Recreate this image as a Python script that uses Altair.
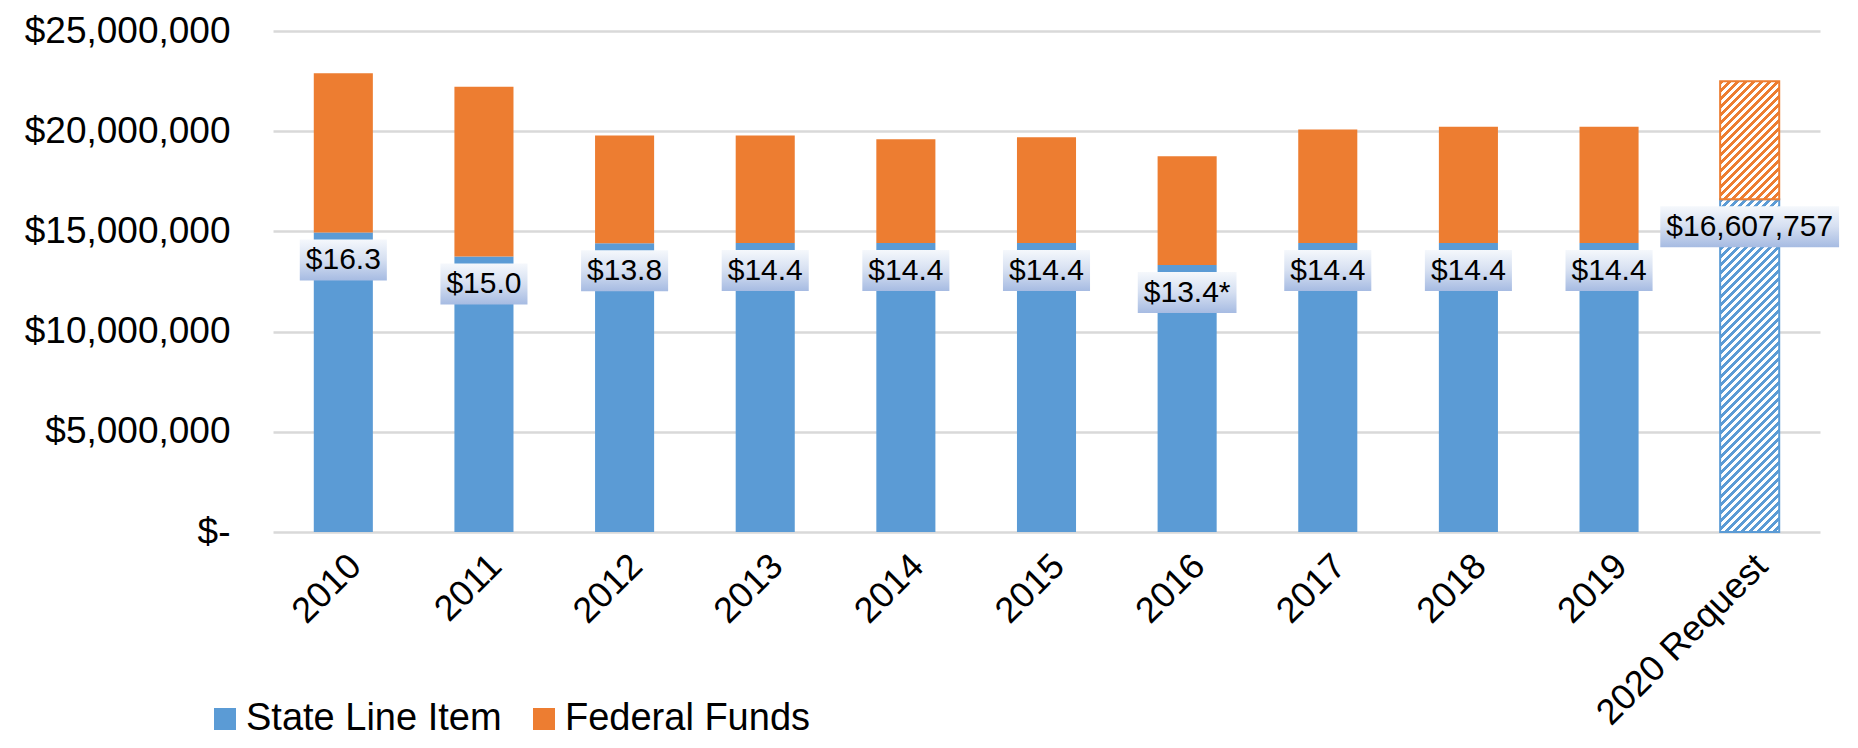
import altair as alt
import pandas as pd

# ---------------- data ----------------
YEARS = ["2010", "2011", "2012", "2013", "2014", "2015", "2016", "2017",
         "2018", "2019", "2020 Request"]
STATE = [14950000, 13750000, 14410000, 14420000, 14420000, 14420000,
         13320000, 14420000, 14420000, 14420000, 16607757]
FEDERAL = [7940000, 8470000, 5370000, 5360000, 5180000, 5280000,
           5430000, 5670000, 5800000, 5800000, 5890000]
LABELS = ["$16.3", "$15.0", "$13.8", "$14.4", "$14.4", "$14.4", "$13.4*",
          "$14.4", "$14.4", "$14.4", "$16,607,757"]
SERIES = ["State Line Item", "Federal Funds"]
Y_TICKS = [0, 5000000, 10000000, 15000000, 20000000, 25000000]
REQUEST = "2020 Request"

# ---------------- style ----------------
BLUE = "#5b9bd5"
ORANGE = "#ed7d31"
FONT = "Liberation Sans"
PLOT_W = 1547
PLOT_H = 501
Y_MAX = 25000000
PAD_IN = 0.58
PAD_OUT = 0.29
BAND_W = PLOT_W / len(YEARS) * (1 - PAD_IN)
LABEL_FS = 30


def hatch(color, w, h, period=8.0, frac=0.55):
    k = (w + h) / (w * w + h * h)
    n = (w + h) / period
    stops = []
    i = 0
    while i < n:
        a = i / n
        b = min((i + frac) / n, 1.0)
        c = min((i + 1) / n, 1.0)
        stops += [(a, color), (b, color), (b, "#ffffff"), (c, "#ffffff")]
        i += 1
    return alt.Gradient(
        gradient="linear", x1=0, y1=0, x2=k * w, y2=k * h,
        stops=[alt.GradientStop(offset=o, color=col) for o, col in stops],
    )


def text_width(t, fs):
    w = 0.0
    for ch in t:
        if ch in ".,":
            w += 0.278
        elif ch == "*":
            w += 0.389
        else:
            w += 0.556
    return w * fs


# ---------------- tables ----------------
rows = []
for i, yr in enumerate(YEARS):
    rows.append({"year": yr, "series": SERIES[0], "value": STATE[i], "order": 0})
    rows.append({"year": yr, "series": SERIES[1], "value": FEDERAL[i], "order": 1})
bars = pd.DataFrame(rows)

lab = pd.DataFrame({"year": YEARS, "state": STATE, "label": LABELS})
BOX_H = 41.0
bw = [text_width(t, LABEL_FS) + 12 for t in LABELS]
lab["shape"] = [f"M-1,{-BOX_H / w:.4f}L1,{-BOX_H / w:.4f}L1,{BOX_H / w:.4f}L-1,{BOX_H / w:.4f}Z" for w in bw]
lab["size"] = [w * w for w in bw]

# ---------------- encodings ----------------
x_scale = alt.Scale(domain=YEARS, paddingInner=PAD_IN, paddingOuter=PAD_OUT)
x_axis = alt.Axis(labelAngle=-45, labelFontSize=36, labelFont=FONT,
                  labelColor="#000000", labelPadding=16, labelLimit=400,
                  domain=False, ticks=False, tickSize=0, grid=False)
y_scale = alt.Scale(domain=[0, Y_MAX], nice=False)
y_axis = alt.Axis(values=Y_TICKS, labelFontSize=37, labelFont=FONT,
                  labelColor="#000000", labelPadding=43, labelLimit=400,
                  domain=False, ticks=False, tickSize=0, grid=True,
                  gridColor="#d9d9d9", gridWidth=2.5,
                  labelExpr="datum.value == 0 ? '$-\u00a0\u00a0' : '$' + format(datum.value, ',.0f')")


def X():
    return alt.X("year:N", sort=YEARS, scale=x_scale, axis=x_axis, title=None)


def Y(field):
    return alt.Y(field, scale=y_scale, axis=y_axis, title=None)


legend = alt.Legend(title=None, orient="none", legendX=-67, legendY=669,
                    direction="horizontal", symbolType="square", symbolSize=484,
                    symbolStrokeWidth=0, labelFontSize=38, labelFont=FONT,
                    labelColor="#000000", labelOffset=2, columnPadding=23,
                    labelLimit=400)

base = alt.Chart(bars).transform_stack(
    stack="value", groupby=["year"], as_=["v0", "v1"],
    sort=[alt.SortField("order", order="ascending")],
)

solid = base.transform_filter(alt.datum.year != REQUEST).mark_bar().encode(
    x=X(), y=Y("v0:Q"), y2="v1:Q",
    color=alt.Color("series:N", scale=alt.Scale(domain=SERIES, range=[BLUE, ORANGE]),
                    legend=legend),
)

h_blue = STATE[-1] / Y_MAX * PLOT_H
h_orange = FEDERAL[-1] / Y_MAX * PLOT_H

req_blue = base.transform_filter(
    (alt.datum.year == REQUEST) & (alt.datum.series == SERIES[0])
).mark_bar(fill=hatch(BLUE, BAND_W, h_blue), stroke=BLUE, strokeWidth=2).encode(
    x=X(), y=Y("v0:Q"), y2="v1:Q")

req_orange = base.transform_filter(
    (alt.datum.year == REQUEST) & (alt.datum.series == SERIES[1])
).mark_bar(fill=hatch(ORANGE, BAND_W, h_orange), stroke=ORANGE, strokeWidth=2).encode(
    x=X(), y=Y("v0:Q"), y2="v1:Q")

box_grad = alt.Gradient(
    gradient="linear", x1=0, y1=0, x2=0, y2=1,
    stops=[alt.GradientStop(offset=0, color="#f5f8fc"),
           alt.GradientStop(offset=0.5, color="#d5dff1"),
           alt.GradientStop(offset=1, color="#a6bbe2")],
)

boxes = alt.Chart(lab).mark_point(filled=True, fill=box_grad, opacity=1,
                                  strokeWidth=0, yOffset=27.5).encode(
    x=X(), y=Y("state:Q"),
    shape=alt.Shape("shape:N", scale=None),
    size=alt.Size("size:Q", scale=None),
)

texts = alt.Chart(lab).mark_text(fontSize=LABEL_FS, font=FONT, baseline="middle",
                                 align="center", color="#000000", yOffset=27.5).encode(
    x=X(), y=Y("state:Q"), text="label:N")

chart = alt.layer(solid, req_blue, req_orange, boxes, texts).properties(
    width=PLOT_W, height=PLOT_H,
    padding={"left": 265, "top": 23, "right": 30, "bottom": 208},
    autosize=alt.AutoSizeParams(type="none"),
).configure_view(strokeOpacity=0)

chart.save("out.html", embed_options={"renderer": "svg", "actions": False})
